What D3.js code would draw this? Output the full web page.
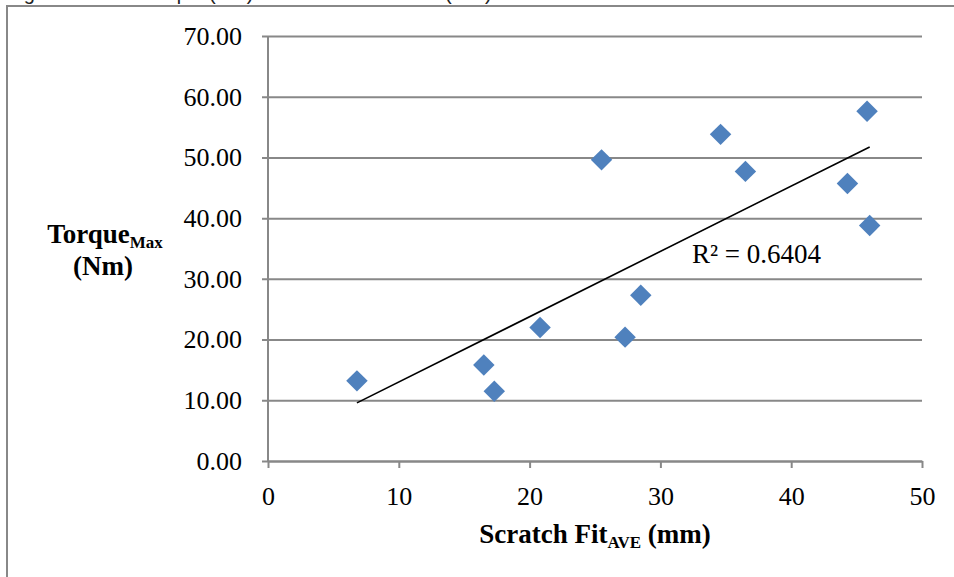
<!DOCTYPE html>
<html>
<head>
<meta charset="utf-8">
<script src="https://cdn.jsdelivr.net/npm/d3@7/dist/d3.min.js"></script>
<style>
  html, body { margin: 0; padding: 0; background: #fff; }
  svg { display: block; }
</style>
</head>
<body>
<svg id="chart" width="954" height="577"></svg>
<script>
// ---- data ----
const scratchFit = [6.8, 16.5, 17.3, 20.8, 25.5, 27.3, 28.5, 34.6, 36.5, 44.3, 45.8, 46.0];
const torqueMax  = [13.2, 15.8, 11.5, 22.0, 49.6, 20.4, 27.3, 53.8, 47.7, 45.7, 57.6, 38.8];
const yTicks = [0, 10, 20, 30, 40, 50, 60, 70];
const xTicks = [0, 10, 20, 30, 40, 50];
const rSquaredLabel = "R\u00B2 = 0.6404";

const svg = d3.select("#chart");
const serif = "'Liberation Serif', 'Times New Roman', serif";
const grid = "#888888";

// outer chart border (top and left visible)
svg.append("rect").attr("x", 7).attr("y", 6).attr("width", 1200).attr("height", 1200)
  .attr("fill", "none").attr("stroke", grid).attr("stroke-width", 2);

// cut-off caption above the chart
const cap = svg.append("text").attr("y", 0).attr("font-family", "'Liberation Sans', Arial, sans-serif")
  .attr("font-size", 20).attr("fill", "#222");
cap.append("tspan").attr("x", 7).text("Figure 5: Peak Torque (Nm) vs. Scratch Fit");
cap.append("tspan").attr("x", 445).text("(mm)");

const x = d3.scaleLinear().domain([0, 50]).range([268, 922]);
const y = d3.scaleLinear().domain([0, 70]).range([461, 36]);

// horizontal gridlines + y tick labels
const yAxis = svg.append("g").attr("transform", "translate(262,0)")
  .call(d3.axisLeft(y).tickValues(yTicks).tickFormat(d3.format(".2f"))
    .tickSize(-(x(50) - 262)).tickPadding(20));
yAxis.select(".domain").remove();
yAxis.selectAll(".tick line").attr("stroke", grid).attr("stroke-width", 2);
yAxis.selectAll(".tick text").attr("font-family", serif).attr("font-size", 26).attr("fill", "#000");

// y axis line
svg.append("line").attr("x1", x(0)).attr("x2", x(0)).attr("y1", y(0)).attr("y2", y(70))
  .attr("stroke", grid).attr("stroke-width", 2);

// x axis
const xAxis = svg.append("g").attr("transform", `translate(0,${y(0)})`)
  .call(d3.axisBottom(x).tickValues(xTicks).tickFormat(d3.format("d"))
    .tickSize(7).tickSizeOuter(0).tickPadding(19));
xAxis.select(".domain").attr("stroke", grid).attr("stroke-width", 2);
xAxis.selectAll(".tick line").attr("stroke", grid).attr("stroke-width", 2);
xAxis.selectAll(".tick text").attr("font-family", serif).attr("font-size", 26).attr("fill", "#000");

// linear trendline (least squares)
const n = scratchFit.length;
const mx = d3.mean(scratchFit), my = d3.mean(torqueMax);
let sxy = 0, sxx = 0;
for (let i = 0; i < n; i++) { sxy += (scratchFit[i] - mx) * (torqueMax[i] - my); sxx += (scratchFit[i] - mx) ** 2; }
const slope = sxy / sxx, intercept = my - slope * mx;
const [xmin, xmax] = d3.extent(scratchFit);
svg.append("line")
  .attr("x1", x(xmin)).attr("y1", y(intercept + slope * xmin))
  .attr("x2", x(xmax)).attr("y2", y(intercept + slope * xmax))
  .attr("stroke", "#000").attr("stroke-width", 1.6);

// diamond markers
const diamond = d3.symbol().type(d3.symbolSquare).size(230);
svg.append("g").selectAll("path").data(scratchFit.map((v, i) => [v, torqueMax[i]]))
  .join("path")
  .attr("d", diamond)
  .attr("transform", d => `translate(${x(d[0])},${y(d[1])}) rotate(45)`)
  .attr("fill", "#4F81BD");

// R² label
svg.append("text").attr("x", 692).attr("y", 263).attr("font-family", serif).attr("font-size", 27)
  .attr("fill", "#000").text(rSquaredLabel);

// y axis title
const yt = svg.append("text").attr("font-family", serif).attr("font-weight", "bold")
  .attr("font-size", 27).attr("fill", "#000").attr("text-anchor", "middle");
const l1 = yt.append("tspan").attr("x", 105).attr("y", 243);
l1.append("tspan").text("Torque");
l1.append("tspan").attr("font-size", 17).attr("dy", 5).text("Max");
yt.append("tspan").attr("x", 103).attr("y", 275).text("(Nm)");

// x axis title
const xt = svg.append("text").attr("x", (x(0) + x(50)) / 2).attr("y", 543)
  .attr("font-family", serif).attr("font-weight", "bold").attr("font-size", 27)
  .attr("fill", "#000").attr("text-anchor", "middle");
xt.append("tspan").text("Scratch Fit");
xt.append("tspan").attr("font-size", 17).attr("dy", 5).text("AVE");
xt.append("tspan").attr("dy", -5).text(" (mm)");
</script>
</body>
</html>
